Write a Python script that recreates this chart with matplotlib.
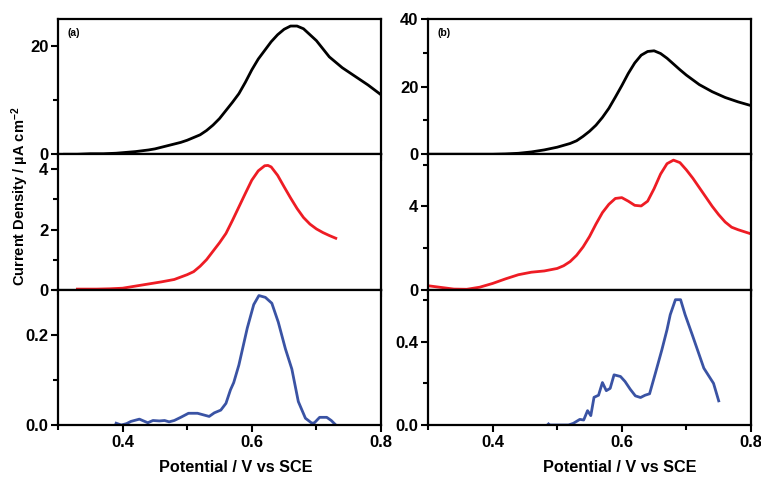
import matplotlib.pyplot as plt
from matplotlib.ticker import MultipleLocator

plt.rcParams["font.family"] = ["Liberation Sans", "DejaVu Sans"]
plt.rcParams["font.weight"] = "bold"
plt.rcParams["mathtext.fontset"] = "custom"
plt.rcParams["mathtext.rm"] = "Liberation Sans:bold"
plt.rcParams["mathtext.default"] = "rm"

# ---- panel (a) ----
a_top_x = [0.31, 0.33, 0.35, 0.37, 0.39, 0.40, 0.42, 0.44, 0.45, 0.46, 0.47, 0.48,
           0.49, 0.50, 0.51, 0.52, 0.53, 0.54, 0.55, 0.56, 0.57, 0.58, 0.59, 0.60,
           0.61, 0.62, 0.63, 0.64, 0.65, 0.66, 0.67, 0.68, 0.69, 0.70, 0.72, 0.74,
           0.76, 0.78, 0.80]
a_top_y = [0.0, 0.0, 0.1, 0.1, 0.2, 0.3, 0.5, 0.8, 1.0, 1.3, 1.6, 1.9,
           2.2, 2.6, 3.1, 3.6, 4.4, 5.4, 6.6, 8.1, 9.6, 11.2, 13.3, 15.6,
           17.6, 19.2, 20.8, 22.1, 23.1, 23.7, 23.7, 23.2, 22.1, 21.0, 18.0, 16.0,
           14.4, 12.8, 11.0]

a_mid_x = [0.33, 0.36, 0.38, 0.40, 0.42, 0.44, 0.46, 0.48, 0.50, 0.51, 0.52, 0.53,
           0.54, 0.55, 0.56, 0.57, 0.58, 0.59, 0.60, 0.61, 0.62, 0.625, 0.63, 0.64,
           0.65, 0.66, 0.67, 0.68, 0.69, 0.70, 0.71, 0.72, 0.73]
a_mid_y = [0.02, 0.02, 0.03, 0.05, 0.12, 0.19, 0.26, 0.34, 0.50, 0.60, 0.78, 1.00,
           1.28, 1.56, 1.87, 2.30, 2.75, 3.20, 3.64, 3.95, 4.12, 4.13, 4.08, 3.80,
           3.42, 3.05, 2.70, 2.40, 2.18, 2.02, 1.90, 1.80, 1.71]

a_bot_x = [0.390, 0.398, 0.406, 0.413, 0.426, 0.439, 0.447, 0.457, 0.465, 0.472,
           0.480, 0.490, 0.502, 0.516, 0.534, 0.542, 0.552, 0.560, 0.567, 0.572,
           0.580, 0.593, 0.603, 0.611, 0.621, 0.631, 0.641, 0.652, 0.662, 0.672,
           0.683, 0.693, 0.697, 0.705, 0.716, 0.723, 0.730]
a_bot_y = [0.004, 0.0, 0.003, 0.008, 0.013, 0.005, 0.010, 0.009, 0.010, 0.007,
           0.010, 0.017, 0.026, 0.026, 0.019, 0.027, 0.033, 0.048, 0.078, 0.094,
           0.133, 0.215, 0.267, 0.287, 0.283, 0.270, 0.228, 0.169, 0.124, 0.052,
           0.015, 0.004, 0.005, 0.017, 0.017, 0.010, 0.0]

# ---- panel (b) ----
b_top_x = [0.30, 0.40, 0.42, 0.44, 0.46, 0.48, 0.50, 0.52, 0.53, 0.54, 0.55, 0.56,
           0.57, 0.58, 0.59, 0.60, 0.61, 0.62, 0.63, 0.64, 0.65, 0.66, 0.67, 0.68,
           0.69, 0.70, 0.72, 0.74, 0.76, 0.78, 0.80]
b_top_y = [0.0, 0.0, 0.1, 0.3, 0.7, 1.3, 2.1, 3.2, 4.0, 5.3, 6.8, 8.6,
           10.9, 13.6, 16.9, 20.3, 23.9, 27.0, 29.3, 30.4, 30.6, 29.8, 28.4, 26.7,
           25.0, 23.4, 20.6, 18.5, 16.8, 15.5, 14.4]

b_mid_x = [0.30, 0.32, 0.34, 0.36, 0.38, 0.40, 0.42, 0.44, 0.46, 0.48, 0.50, 0.51,
           0.52, 0.53, 0.54, 0.55, 0.56, 0.57, 0.58, 0.59, 0.60, 0.61, 0.62, 0.63,
           0.64, 0.65, 0.66, 0.67, 0.68, 0.69, 0.70, 0.71, 0.72, 0.73, 0.74, 0.75,
           0.76, 0.77, 0.78, 0.79, 0.80]
b_mid_y = [0.19, 0.11, 0.03, 0.02, 0.12, 0.30, 0.52, 0.72, 0.84, 0.90, 1.02, 1.15,
           1.35, 1.65, 2.05, 2.55, 3.15, 3.70, 4.10, 4.38, 4.42, 4.25, 4.05, 4.02,
           4.25, 4.85, 5.55, 6.05, 6.22, 6.10, 5.75, 5.35, 4.90, 4.45, 4.00, 3.60,
           3.25, 3.00, 2.88, 2.78, 2.68]

b_bot_x = [0.4865, 0.488, 0.5175, 0.525, 0.535, 0.541, 0.547, 0.552, 0.557, 0.564,
           0.570, 0.576, 0.582, 0.588, 0.598, 0.605, 0.613, 0.621, 0.629, 0.636,
           0.643, 0.652, 0.662, 0.670, 0.675, 0.683, 0.691, 0.698, 0.709, 0.727,
           0.742, 0.750]
b_bot_y = [0.005, 0.0, 0.0, 0.008, 0.027, 0.024, 0.069, 0.045, 0.133, 0.143,
           0.204, 0.165, 0.176, 0.241, 0.233, 0.209, 0.172, 0.140, 0.132, 0.143,
           0.150, 0.249, 0.361, 0.458, 0.530, 0.602, 0.602, 0.530, 0.434, 0.273,
           0.200, 0.116]

BLACK = "black"
RED = "#ee1c24"
BLUE = "#3a53a4"

W, H = 761, 478
fig = plt.figure(figsize=(W / 100, H / 100), dpi=100)


def px_axes(left, right, top, bottom):
    return fig.add_axes([left / W, 1 - bottom / H, (right - left) / W, (bottom - top) / H])


def style(ax, ylim, major, minor, show_x):
    ax.set_xlim(0.3, 0.8)
    ax.set_ylim(*ylim)
    ax.xaxis.set_major_locator(MultipleLocator(0.2))
    ax.xaxis.set_minor_locator(MultipleLocator(0.1))
    ax.yaxis.set_major_locator(MultipleLocator(major))
    ax.yaxis.set_minor_locator(MultipleLocator(minor))
    ax.tick_params(which="both", direction="out", width=1.5, labelsize=12,
                   top=False, right=False, pad=2)
    ax.tick_params(which="major", length=5)
    ax.tick_params(which="minor", length=3.5)
    if not show_x:
        ax.tick_params(axis="x", which="both", labelbottom=False)
    for s in ax.spines.values():
        s.set_linewidth(1.6)
    for lab in ax.get_xticklabels() + ax.get_yticklabels():
        lab.set_fontweight("bold")


tops = [19, 154.3, 289.7]
bots = [154.3, 289.7, 425]

panels = [
    (58, 381, [
        (a_top_x, a_top_y, BLACK, (0, 25), 20, 10),
        (a_mid_x, a_mid_y, RED, (0, 4.5), 2, 1),
        (a_bot_x, a_bot_y, BLUE, (0, 0.3), 0.2, 0.1),
    ], "(a)", 236),
    (428, 751, [
        (b_top_x, b_top_y, BLACK, (0, 40), 20, 10),
        (b_mid_x, b_mid_y, RED, (0, 6.5), 4, 2),
        (b_bot_x, b_bot_y, BLUE, (0, 0.65), 0.4, 0.2),
    ], "(b)", 620),
]

for left, right, rows, tag, xlab_px in panels:
    for i, (xs, ys, col, ylim, major, minor) in enumerate(rows):
        ax = px_axes(left, right, tops[i], bots[i])
        ax.plot(xs, ys, color=col, lw=2.0, clip_on=True)
        style(ax, ylim, major, minor, show_x=(i == 2))
        if i == 0:
            ax.text(0.03, 0.9, tag, transform=ax.transAxes, fontsize=7.5,
                    fontweight="bold", va="center", ha="left")
    fig.text(xlab_px / W, 1 - 468 / H, "Potential / V vs SCE", fontsize=11.7,
             fontweight="bold", ha="center", va="center")

fig.text(20 / W, 1 - 196 / H, "Current Density / µA cm$^{-2}$", rotation=90,
         fontsize=10.5, fontweight="bold", ha="center", va="center")

fig.savefig("out.png", dpi=100)
